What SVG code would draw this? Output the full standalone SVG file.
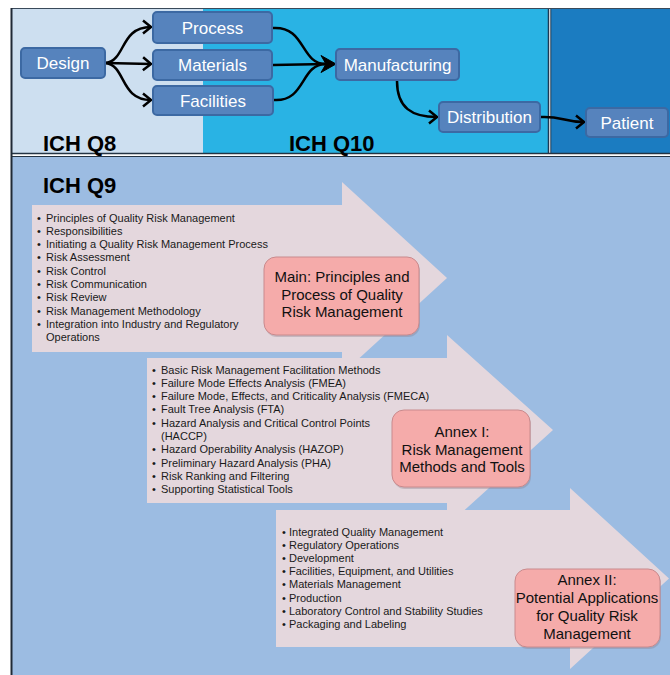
<svg xmlns="http://www.w3.org/2000/svg" width="670" height="675" viewBox="0 0 670 675">
<style>
.node rect{fill:#5683bd;stroke:#3c69a3;stroke-width:2}
.node text{font-family:"Liberation Sans",Arial,sans-serif;font-size:17px;fill:#ffffff;text-anchor:middle}
.conn path{fill:none;stroke:#000;stroke-width:2.5}
.hdr{font-family:"Liberation Sans",Arial,sans-serif;font-weight:bold;fill:#000}
.li{font-family:"Liberation Sans",Arial,sans-serif;font-size:11px;fill:#1a1a1a}
.box rect.b{fill:#f5abaa;stroke:#c98a8d;stroke-width:1}
.box rect.s{fill:#8a7a86;opacity:0.35}
.box text{font-family:"Liberation Sans",Arial,sans-serif;font-size:15px;fill:#111;text-anchor:middle}
.arrow{fill:#e4d7dd}
</style>
<defs>
<marker id="chev" markerUnits="userSpaceOnUse" markerWidth="14" markerHeight="16" refX="10" refY="8" orient="auto">
<path d="M2,1.5 L10,8 L2,14.5" fill="none" stroke="#000" stroke-width="2.5" stroke-linejoin="miter"/>
</marker>
</defs>
<!-- page background -->
<rect x="0" y="0" width="670" height="675" fill="#ffffff"/>
<!-- top panel -->
<rect x="11" y="8" width="192" height="146" fill="#cddff0"/>
<rect x="203" y="8" width="346" height="146" fill="#29b3e4"/>
<rect x="551" y="8" width="119" height="146" fill="#1b7cc1"/>
<line x1="548.5" y1="8" x2="548.5" y2="154" stroke="#1d3a55" stroke-width="1.5"/>
<line x1="550.8" y1="8" x2="550.8" y2="154" stroke="#1d3a55" stroke-width="1"/>
<line x1="11" y1="8.5" x2="670" y2="8.5" stroke="#3a4a5a" stroke-width="1"/>
<line x1="11" y1="153.5" x2="670" y2="153.5" stroke="#243444" stroke-width="1.5"/>
<!-- bottom panel -->
<rect x="11" y="156" width="659" height="519" fill="#9cbce2"/>
<line x1="11" y1="156.5" x2="670" y2="156.5" stroke="#243444" stroke-width="1.2"/>
<line x1="11.5" y1="8" x2="11.5" y2="675" stroke="#202a36" stroke-width="2"/>
<text class="hdr" x="43" y="151" font-size="22">ICH Q8</text>
<text class="hdr" x="289" y="151" font-size="22">ICH Q10</text>
<text class="hdr" x="43" y="193" font-size="22">ICH Q9</text>
<!-- big arrows -->
<polygon class="arrow" points="32,205 342,205 342,182 447,278 342,374 342,352 32,352"/>
<polygon class="arrow" points="147,358 447,358 447,335 553,430 447,526 447,503 147,503"/>
<polygon class="arrow" points="276,510 570,510 570,488 669,578.5 570,669 570,647 276,647"/>
<!-- list 1 -->
<g id="list1" class="li">
<text x="37" y="221.5">•</text><text x="46" y="221.5">Principles of Quality Risk Management</text>
<text x="37" y="234.8">•</text><text x="46" y="234.8">Responsibilities</text>
<text x="37" y="248.1">•</text><text x="46" y="248.1">Initiating a Quality Risk Management Process</text>
<text x="37" y="261.4">•</text><text x="46" y="261.4">Risk Assessment</text>
<text x="37" y="274.7">•</text><text x="46" y="274.7">Risk Control</text>
<text x="37" y="288">•</text><text x="46" y="288">Risk Communication</text>
<text x="37" y="301.3">•</text><text x="46" y="301.3">Risk Review</text>
<text x="37" y="314.6">•</text><text x="46" y="314.6">Risk Management Methodology</text>
<text x="37" y="327.9">•</text><text x="46" y="327.9">Integration into Industry and Regulatory</text>
<text x="46" y="341.2">Operations</text>
</g>
<!-- list 2 -->
<g id="list2" class="li">
<text x="152" y="373.5">•</text><text x="161" y="373.5">Basic Risk Management Facilitation Methods</text>
<text x="152" y="386.8">•</text><text x="161" y="386.8">Failure Mode Effects Analysis (FMEA)</text>
<text x="152" y="400.1">•</text><text x="161" y="400.1">Failure Mode, Effects, and Criticality Analysis (FMECA)</text>
<text x="152" y="413.4">•</text><text x="161" y="413.4">Fault Tree Analysis (FTA)</text>
<text x="152" y="426.7">•</text><text x="161" y="426.7">Hazard Analysis and Critical Control Points</text>
<text x="161" y="440">(HACCP)</text>
<text x="152" y="453.3">•</text><text x="161" y="453.3">Hazard Operability Analysis (HAZOP)</text>
<text x="152" y="466.6">•</text><text x="161" y="466.6">Preliminary Hazard Analysis (PHA)</text>
<text x="152" y="479.9">•</text><text x="161" y="479.9">Risk Ranking and Filtering</text>
<text x="152" y="493.2">•</text><text x="161" y="493.2">Supporting Statistical Tools</text>
</g>
<!-- list 3 -->
<g id="list3" class="li">
<text x="282" y="535.5">•</text><text x="289" y="535.5">Integrated Quality Management</text>
<text x="282" y="548.7">•</text><text x="289" y="548.7">Regulatory Operations</text>
<text x="282" y="561.9">•</text><text x="289" y="561.9">Development</text>
<text x="282" y="575.1">•</text><text x="289" y="575.1">Facilities, Equipment, and Utilities</text>
<text x="282" y="588.3">•</text><text x="289" y="588.3">Materials Management</text>
<text x="282" y="601.5">•</text><text x="289" y="601.5">Production</text>
<text x="282" y="614.7">•</text><text x="289" y="614.7">Laboratory Control and Stability Studies</text>
<text x="282" y="627.9">•</text><text x="289" y="627.9">Packaging and Labeling</text>
</g>
<!-- pink boxes -->
<g id="main" class="box">
<rect class="s" x="265" y="259" width="155" height="78" rx="12"/>
<rect class="b" x="264" y="257" width="155" height="78" rx="12"/>
<text x="342" y="282">Main: Principles and</text>
<text x="342" y="299.5">Process of Quality</text>
<text x="342" y="317">Risk Management</text>
</g>
<g id="annex1" class="box">
<rect class="s" x="393" y="412" width="138" height="77" rx="12"/>
<rect class="b" x="392" y="410" width="138" height="77" rx="12"/>
<text x="462" y="437">Annex I:</text>
<text x="462" y="454.5">Risk Management</text>
<text x="462" y="472">Methods and Tools</text>
</g>
<g id="annex2" class="box">
<rect class="s" x="516" y="571" width="145" height="78" rx="12"/>
<rect class="b" x="515" y="569" width="145" height="78" rx="12"/>
<text x="587" y="585">Annex II:</text>
<text x="587" y="603">Potential Applications</text>
<text x="587" y="621">for Quality Risk</text>
<text x="587" y="638.5">Management</text>
</g>
<!-- connectors -->
<g id="connectors" class="conn">
<path d="M106,63 C126,60 120,27 151,27" marker-end="url(#chev)"/>
<path d="M106,63 L151,64" marker-end="url(#chev)"/>
<path d="M106,63 C126,66 120,100 151,100" marker-end="url(#chev)"/>
<path d="M273,28 C306,26 300,64 326,64"/>
<path d="M273,65 L326,64"/>
<path d="M274,100 C306,102 300,64 326,64"/>
<polygon points="336,64 321,55.5 326,64 321,72.5" fill="#000" stroke="#000" stroke-width="1"/>
<path d="M397,81 C397,108 412,117 437,117" marker-end="url(#chev)"/>
<path d="M541,117 C562,116 563,122 584,122" marker-end="url(#chev)"/>
</g>
<!-- top nodes -->
<g id="design" class="node"><rect x="21" y="48" width="84" height="30" rx="4"/><text x="63" y="69">Design</text></g>
<g id="process" class="node"><rect x="153" y="12" width="119" height="31" rx="4"/><text x="212.5" y="33.5">Process</text></g>
<g id="materials" class="node"><rect x="153" y="50" width="119" height="30" rx="4"/><text x="212.5" y="71">Materials</text></g>
<g id="facilities" class="node"><rect x="153" y="86" width="120" height="29" rx="4"/><text x="213" y="106.5">Facilities</text></g>
<g id="manufacturing" class="node"><rect x="336" y="49" width="123" height="31" rx="4"/><text x="397.5" y="70.5">Manufacturing</text></g>
<g id="distribution" class="node"><rect x="439" y="102" width="101" height="30" rx="4"/><text x="489.5" y="123">Distribution</text></g>
<g id="patient" class="node"><rect x="586" y="108" width="82" height="29" rx="4"/><text x="627" y="128.5">Patient</text></g>
</svg>
